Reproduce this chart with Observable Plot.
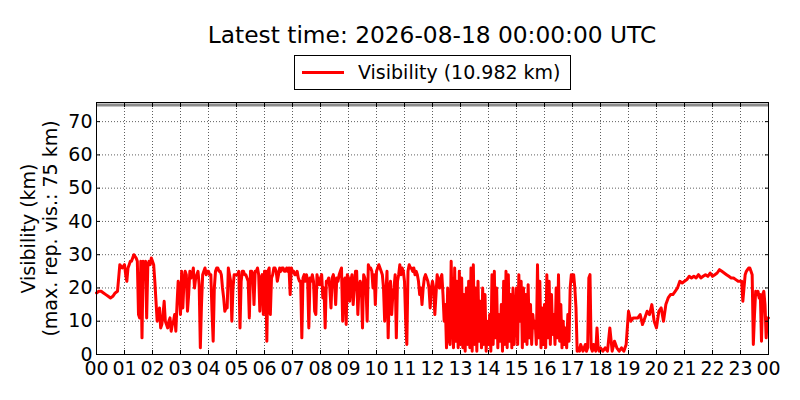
<!DOCTYPE html>
<html>
<head>
<meta charset="utf-8">
<script src="https://cdn.jsdelivr.net/npm/d3@7"></script>
<script src="https://cdn.jsdelivr.net/npm/@observablehq/plot@0.6"></script>
<style>
  body { margin: 0; background: #fff; font-family: "DejaVu Sans", sans-serif; }
  #wrap { width: 800px; height: 400px; position: relative; overflow: hidden; background: #fff; }
  #head { position: relative; height: 92px; }
  #title { position: absolute; left: 96px; width: 672px; top: 22.6px; text-align: center;
           font-size: 23.3px; line-height: 23.3px; white-space: nowrap; color: #000; }
  #legend { position: absolute; left: 294px; top: 55px; width: 277px; height: 35px;
            box-sizing: border-box; border: 1px solid #000; background: #fff; }
  #legend .sample { position: absolute; left: 7px; top: 14.5px; width: 42px; height: 3px; background: #ff0000; }
  #legend .lab { position: absolute; left: 63px; top: 6.6px; font-size: 19px; line-height: 19px; white-space: nowrap; color: #000; }
  svg { display: block; }
</style>
</head>
<body>
<div id="wrap">
  <div id="head">
    <div id="title"></div>
    <div id="legend"><div class="sample"></div><div class="lab"></div></div>
  </div>
  <div id="chart"></div>
</div>
<script>
// ---- data: visibility readings (km); one inner list per hour, readings evenly spaced within the hour ----
const titleText = "Latest time: 2026-08-18 00:00:00 UTC";
const seriesName = "Visibility";
const latestValue = 10.982;       // reading at 24:00
const maxReportedVis = 75;

const visH00_05 = [
  [18.5, 19, 19, 18.5, 18, 17.5, 17, 17.5, 18.5, 19, 27, 26],
  [27, 24, 22, 26, 27, 28, 28, 29, 30, 29.5, 29, 28, 12, 11, 28, 5, 28, 27.5, 28, 11, 27, 28, 27, 29],
  [28, 27, 22, 16, 10, 12, 14, 8, 9, 12, 16, 10, 9, 8, 10, 11, 7, 9, 10, 12, 7, 15, 22, 20],
  [12, 25, 14, 22, 25, 24, 13, 18, 25, 23, 24, 26, 20, 23, 24, 25, 21, 2, 15, 24, 25, 26, 24, 25],
  [25, 24, 24, 13, 4, 20, 25, 26, 26, 25, 25, 24, 20, 17, 13, 14, 14, 26, 24, 22, 10, 20, 24, 24],
  [24, 24, 25, 8, 22, 25, 25, 24, 24, 23, 22, 11, 25, 25, 24, 15, 25, 25, 26, 24, 13, 23, 24, 12]
];
const visH06_11 = [
  [25, 25, 4, 25, 26, 12, 23, 24, 26, 26, 25, 22, 24, 26, 25, 26, 26, 25, 25, 26, 25, 26, 18, 26],
  [25, 25, 24, 24, 25, 23, 22, 22, 5, 23, 24, 22, 24, 22, 8, 23, 22, 24, 22, 13, 12, 24, 22, 21],
  [23, 24, 17, 20, 8, 22, 22, 23, 20, 14, 23, 24, 22, 15, 23, 22, 24, 25, 26, 10, 22, 23, 9, 24],
  [23, 16, 22, 24, 15, 20, 25, 25, 12, 20, 22, 21, 8, 24, 23, 20, 10, 27, 26, 26, 25, 20, 24, 15],
  [25, 26, 27, 26, 25, 24, 20, 10, 18, 25, 5, 20, 22, 12, 18, 20, 24, 5, 22, 24, 27, 24, 26, 25],
  [22, 10, 3, 25, 27, 26, 26, 25, 26, 24, 25, 24, 22, 18, 20, 15, 20, 23, 24, 23, 22, 20, 14, 20]
];
const visH12_17 = [
  [22, 20, 12, 18, 24, 22, 20, 23, 24, 18, 10, 15, 2, 20, 5, 3, 28, 10, 2, 26, 4, 22, 2, 25],
  [3, 23, 2, 18, 1, 20, 3, 22, 2, 26, 1, 27, 3, 20, 1, 22, 4, 16, 2, 20, 3, 18, 1, 10],
  [3, 12, 1, 24, 3, 25, 5, 20, 2, 12, 4, 15, 1, 22, 3, 25, 2, 24, 4, 18, 2, 20, 3, 12],
  [20, 3, 24, 10, 22, 2, 20, 4, 18, 3, 21, 5, 15, 3, 12, 8, 10, 3, 27, 5, 22, 2, 14, 3],
  [15, 2, 24, 5, 22, 3, 18, 6, 12, 3, 20, 5, 24, 4, 15, 2, 10, 3, 8, 2, 12, 4, 20, 24],
  [22, 24, 20, 14, 1, 2, 1, 3, 2, 1, 2, 3, 1, 2, 23, 24, 2, 1, 3, 2, 1, 8, 2, 1]
];
const visH18_23 = [
  [2, 1, 2, 1, 8, 1, 4, 2, 1, 2, 1, 3],
  [13, 10, 11, 11, 11, 12, 9, 11, 13, 12, 15, 10],
  [8, 13, 14, 10, 15, 17, 18, 18, 19, 20, 22, 21.5],
  [22, 22.5, 23.5, 23, 23.5, 23, 24, 23, 23.5, 24, 23.5, 24.5],
  [23.5, 24, 24.5, 25.5, 25, 24.5, 24, 23.5, 23, 23, 22.5, 22],
  [22, 22, 16, 20, 24, 25, 25.5, 26, 26, 25, 24, 3, 12, 19, 18, 19, 17, 18, 4, 18, 19, 15, 5, 11]
];
const hourLabels = ["00","01","02","03","04","05","06","07","08","09","10","11",
                    "12","13","14","15","16","17","18","19","20","21","22","23","00"];
const yTicks = [0, 10, 20, 30, 40, 50, 60, 70];
const yLabelLine1 = "Visibility (km)";
const yLabelLine2 = "(max. rep. vis.: 75 km)";

// ---- build ----
document.getElementById("title").textContent = titleText;
document.querySelector("#legend .lab").textContent = `${seriesName} (${latestValue} km)`;

const start = new Date(Date.UTC(2026, 7, 17, 0, 0, 0));
const end = new Date(Date.UTC(2026, 7, 18, 0, 0, 0));
const HOUR = 3600000;
const hours = [...visH00_05, ...visH06_11, ...visH12_17, ...visH18_23];
const data = [];
hours.forEach((vals, h) => {
  vals.forEach((v, j) => data.push({time: new Date(start.getTime() + (h + j / vals.length) * HOUR), vis: v}));
});
data.push({time: end, vis: latestValue});

const hourTicks = hourLabels.map((_, i) => new Date(start.getTime() + i * HOUR));
const fmtHour = d => hourLabels[hourTicks.findIndex(t => +t === +d)];
const blank = () => "";
const gridStyle = {stroke: "black", strokeOpacity: 0.9, strokeWidth: 0.7, strokeDasharray: "1,2"};

const chart = Plot.plot({
  width: 800,
  height: 308,
  marginTop: 10,
  marginBottom: 46,
  marginLeft: 96,
  marginRight: 32,
  style: {fontFamily: "DejaVu Sans", fontSize: "19px", color: "black", background: "white", overflow: "visible"},
  x: {type: "utc", domain: [start, end]},
  y: {domain: [0, 75.75]},
  marks: [
    Plot.gridX(hourTicks, gridStyle),
    Plot.gridY(yTicks, gridStyle),
    Plot.ruleY([maxReportedVis], {stroke: "#8c8c8c", strokeWidth: 3}),
    Plot.line(data, {x: "time", y: "vis", stroke: "#ff0000", strokeWidth: 3, curve: "linear"}),
    // tick labels
    Plot.axisX(hourTicks, {anchor: "bottom", tickSize: 0, tickPadding: 7, tickFormat: fmtHour, label: null, fontSize: 19, fill: "black"}),
    Plot.axisY(yTicks, {anchor: "left", tickSize: 0, tickPadding: 4, label: null, fontSize: 19, fill: "black"}),
    // inward ticks on all four sides
    Plot.axisX(hourTicks, {anchor: "bottom", tickSize: 4, dy: -4, tickFormat: blank, label: null, stroke: "black"}),
    Plot.axisX(hourTicks, {anchor: "top", tickSize: 4, dy: 4, tickFormat: blank, label: null, stroke: "black"}),
    Plot.axisY(yTicks, {anchor: "left", tickSize: 4, dx: 4, tickFormat: blank, label: null, stroke: "black"}),
    Plot.axisY(yTicks, {anchor: "right", tickSize: 4, dx: -4, tickFormat: blank, label: null, stroke: "black"}),
    // two-line y label
    Plot.text([yLabelLine1], {frameAnchor: "left", textAnchor: "middle", lineAnchor: "middle", dx: -67.5, rotate: -90, fontSize: 19, fill: "black"}),
    Plot.text([yLabelLine2], {frameAnchor: "left", textAnchor: "middle", lineAnchor: "middle", dx: -46, rotate: -90, fontSize: 19, fill: "black"}),
    Plot.frame({stroke: "black", strokeWidth: 1})
  ]
});
document.getElementById("chart").appendChild(chart);
</script>
</body>
</html>
